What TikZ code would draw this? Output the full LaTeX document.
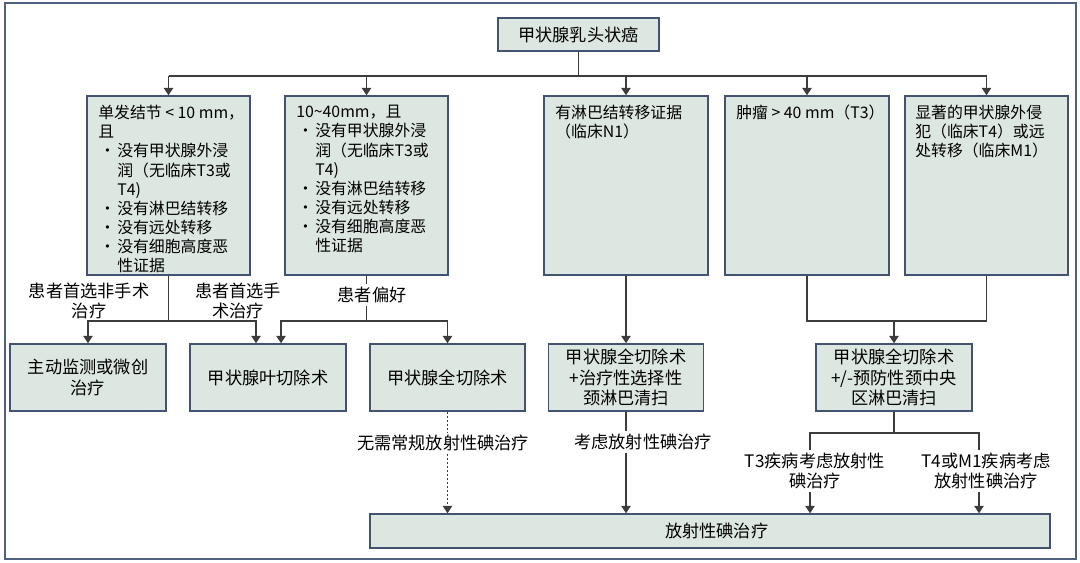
\documentclass[tikz,border=0pt]{standalone}
\usepackage{fontspec}
\setmainfont{Noto Sans CJK SC}
\usetikzlibrary{arrows.meta,calc,fit}
\definecolor{boxfill}{HTML}{DDE7E1}
\definecolor{boxdraw}{HTML}{43536F}
\definecolor{framec}{HTML}{50607F}
\definecolor{linec}{HTML}{3C3C3C}
\newcommand\bu{\makebox[14.25pt][l]{\hspace{1pt}•}}
\newcommand\ind{\hspace*{14.25pt}}
\newcommand\nls{\lineskiplimit=-20pt\relax}
\begin{document}
\begin{tikzpicture}[x=0.75pt,y=-0.75pt,
  box/.style={draw=boxdraw, fill=boxfill, line width=1.1pt, inner sep=0pt, align=center,
    font=\fontsize{12.9}{15.5}\selectfont\nls},
  rowtext/.style={anchor=north west, inner sep=0pt, align=left,
    font=\fontsize{11.9}{14.37}\selectfont\nls},
  lbl/.style={inner sep=2pt, align=center, font=\fontsize{12.9}{15}\selectfont\nls},
  conn/.style={draw=linec, line width=0.9pt},
  arr/.style={conn, -{Triangle[length=5.5pt,width=7pt]}},
  dotc/.style={conn, dash pattern=on 1.5pt off 1.5pt},
]
\useasboundingbox (0,0) rectangle (1080,562);
\draw[framec, line width=1.4pt] (5,3) rectangle (1076,559);

% top
\node[box, minimum width=120.75pt, minimum height=24.75pt] (top) at (578.5,34.5) {甲状腺乳头状癌};

% first row boxes
\node[box, fit={(87,96) (250,275)}] (b1) {};
\node[box, fit={(285,96) (448,275)}] (b2) {};
\node[box, fit={(544,96) (708,275)}] (b3) {};
\node[box, fit={(725,96) (889,275)}] (b4) {};
\node[box, fit={(905,96) (1068,275)}] (b5) {};

\node[rowtext] (b1t) at (98,105) {\mbox{单发结节 < 10 mm，}\\
且\\
\bu 没有甲状腺外浸\\
\ind 润（无临床T3或\\
\ind T4)\\
\bu 没有淋巴结转移\\
\bu 没有远处转移\\
\bu 没有细胞高度恶\\
\ind 性证据};
\node[rowtext] (b2t) at (296,105) {10\textasciitilde 40mm，且\\
\bu 没有甲状腺外浸\\
\ind 润（无临床T3或\\
\ind T4)\\
\bu 没有淋巴结转移\\
\bu 没有远处转移\\
\bu 没有细胞高度恶\\
\ind 性证据};
\node[rowtext] (b3t) at (555,105) {有淋巴结转移证据\\（临床N1）};
\node[rowtext] (b4t) at (736,105) {\mbox{肿瘤 > 40 mm（T3）}};
\node[rowtext] (b5t) at (915,105) {显著的甲状腺外侵\\犯（临床T4）或远\\处转移（临床M1）};

% second row boxes
\node[box, minimum width=117pt, minimum height=50.25pt] (c1) at (88,377.5) {主动监测或微创\\治疗};
\node[box, minimum width=117pt, minimum height=50.25pt] (c2) at (268,377.5) {甲状腺叶切除术};
\node[box, minimum width=116.25pt, minimum height=50.25pt] (c3) at (447.5,377.5) {甲状腺全切除术};
\node[box, minimum width=116.25pt, minimum height=50.25pt] (c4) at (626,377.5) {甲状腺全切除术\\+治疗性选择性\\颈淋巴清扫};
\node[box, minimum width=117pt, minimum height=50.25pt] (c5) at (894,377.5) {甲状腺全切除术\\+/-预防性颈中央\\区淋巴清扫};

% bottom box
\node[box, minimum width=510pt, minimum height=25.5pt] (rad) at (710,531) {\hspace*{10pt}放射性碘治疗};

% labels
\node[lbl] (L1) at (89,301) {患者首选非手术\\治疗};
\node[lbl] (L2) at (238,301) {患者首选手\\术治疗};
\node[lbl] (L3) at (372,295) {患者偏好};
\node[lbl] (L4) at (443,443) {无需常规放射性碘治疗};
\node[lbl] (L5) at (643,442) {考虑放射性碘治疗};
\node[lbl] (L6) at (815,471) {T3疾病考虑放射性\\碘治疗};
\node[lbl] (L7) at (986,471) {T4或M1疾病考虑\\放射性碘治疗};

% helper coordinates
\coordinate (hb) at (0,76);
\coordinate (h1) at (0,321);
\coordinate (h3) at (0,433);
\coordinate (c2l) at ($(c2.north)+(-12,0)$);
\coordinate (c2r) at ($(c2.north)+(13,0)$);
\coordinate (t3) at (810,433);
\coordinate (t4) at (979,433);

% top connectors
\draw[conn] (top.south) -- (top.south |- hb);
\draw[conn] (b1.north |- hb) -- (b5.north |- hb);
\foreach \b in {b1,b2,b3,b4,b5} \draw[arr] (\b.north |- hb) -- (\b.north);

% first row to second row
\draw[arr] (b1.south) -- (b1.south |- h1) -| (c1.north);
\draw[arr] (b1.south |- h1) -| (c2l);
\draw[conn] (b2.south) -- (b2.south |- L3.north);
\draw[arr] (b2.south |- L3.south) -- (b2.south |- h1) -| (c2r);
\draw[arr] (b2.south |- h1) -| (c3.north);
\draw[arr] (b3.south) -- (b3.south |- c4.north);
\draw[conn] (b4.south) -- (b4.south |- h1) -- (b5.south |- h1) -- (b5.south);
\draw[arr] (c5.north |- h1) -- (c5.north);

% to radioiodine
\draw[dotc] (c3.south) -- (c3.south |- L4.north);
\draw[dotc, -{Triangle[length=5.5pt,width=7pt]}] (c3.south |- L4.south) -- (c3.south |- rad.north);
\draw[conn] (c4.south) -- (c4.south |- L5.north);
\draw[arr] (c4.south |- L5.south) -- (c4.south |- rad.north);
\draw[conn] (c5.south) -- (c5.south |- h3);
\draw[conn] (t3 |- L6.north) -- (t3) -- (t4) -- (t4 |- L7.north);
\draw[arr] (t3 |- L6.south) -- (t3 |- rad.north);
\draw[arr] (t4 |- L7.south) -- (t4 |- rad.north);
\end{tikzpicture}
\end{document}
